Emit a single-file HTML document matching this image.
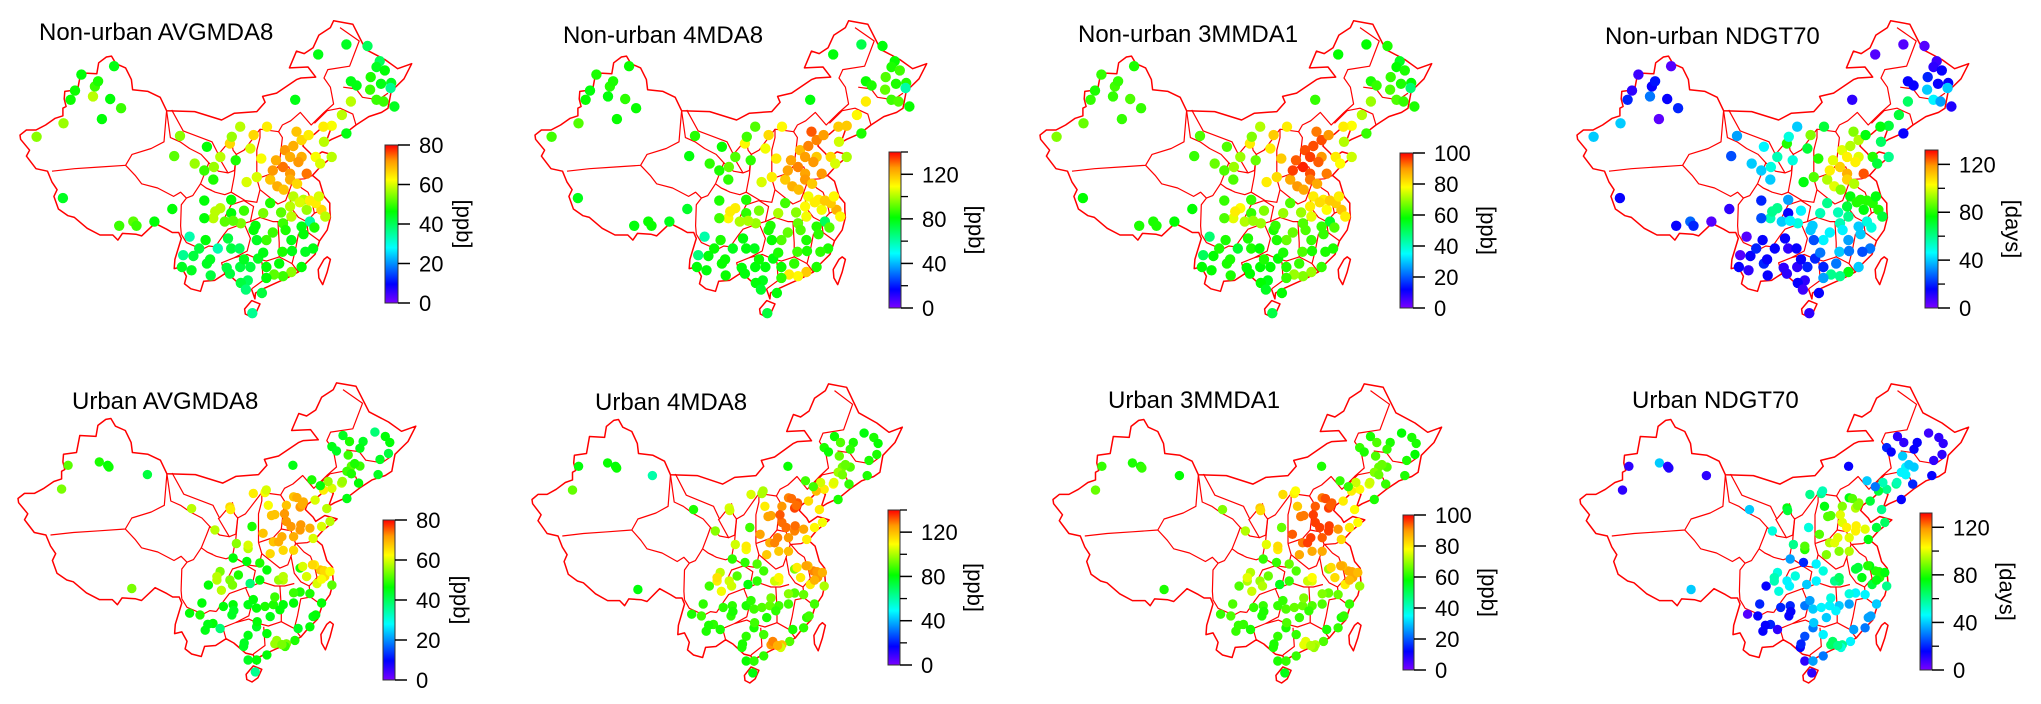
<!DOCTYPE html>
<html><head><meta charset="utf-8">
<style>
html,body{margin:0;padding:0;background:#fff;}
svg{display:block;font-family:"Liberation Sans",Arial,sans-serif;}
</style></head>
<body>
<svg id="fig" width="2041" height="704" viewBox="0 0 2041 704" xmlns="http://www.w3.org/2000/svg">
<defs>
<linearGradient id="rainbow" x1="0" y1="1" x2="0" y2="0">
<stop offset="0" stop-color="#7a00ff"/><stop offset="0.12" stop-color="#0000ff"/><stop offset="0.35" stop-color="#00ffff"/><stop offset="0.58" stop-color="#00ff00"/><stop offset="0.78" stop-color="#ffff00"/><stop offset="0.9" stop-color="#ff9900"/><stop offset="1" stop-color="#ff0000"/>
</linearGradient>
</defs>
</svg>
<script>
// ---- Non-urban stations ----
const nuLon=[88.2,83.1,82.1,81.4,85.2,85.7,84.9,87.6,89.3,86.3,80.3,76.1,80.2,89.0,91.2,91.7,94.5,97.3,97.6,98.5,
120.1,124.5,127.8,129.7,129.2,130.5,131.5,131.4,125.2,126.1,128.3,129.9,128.2,129.2,130.3,132.0,125.2,116.5,123.8,122.2,
120.9,124.5,121.0,116.7,117.5,118.6,114.9,115.7,114.6,117.5,118.3,115.7,112.6,113.7,114.7,115.7,119.7,120.4,122.2,110.0,
112.1,107.9,106.3,110.5,108.9,120.6,119.7,117.8,118.3,121.2,116.2,115.7,118.8,117.5,119.3,118.1,117.5,115.9,114.6,112.0,
110.7,109.1,108.0,111.3,108.8,115.9,114.5,112.0,110.5,110.0,114.6,115.9,111.5,112.6,108.0,106.5,104.8,103.7,106.5,103.7,
102.3,100.8,104.8,106.6,107.2,102.7,102.3,102.3,102.5,100.0,100.6,99.0,98.8,100.3,101.5,102.7,103.3,104.4,106.5,107.8,
107.9,109.5,106.3,109.8,
113.5,116.2,117.0,113.0,116.8,117.2,118.8,120.2,114.3,113.0,115.0,116.0,113.2,114.0,111.5,110.3,108.5,105.5,104.0,106.8,
103.2,106.0,108.5,105.8,112.0,117.8,119.5,111.2,109.5,103.8];
const nuLat=[48.0,47.0,45.1,44.0,45.6,46.2,44.4,44.1,43.0,41.7,41.2,39.6,32.3,29.0,29.5,29.0,29.5,31.0,37.3,39.7,
49.4,50.6,50.4,48.6,47.9,47.5,46.0,45.4,46.2,45.7,46.7,45.9,45.2,44.0,43.8,43.2,43.8,44.0,42.2,40.9,
40.8,40.0,39.0,40.2,39.2,39.8,38.0,37.2,36.0,37.2,35.2,35.2,34.5,33.7,33.3,34.5,37.2,36.4,37.2,39.8,
40.8,40.8,38.8,34.8,34.2,30.9,31.7,32.1,30.9,30.1,32.5,31.3,29.5,28.9,26.3,25.9,24.1,23.5,23.0,24.1,
25.1,22.5,22.2,21.0,21.4,27.3,25.9,27.3,27.3,28.5,29.3,30.1,30.5,31.7,29.3,30.5,31.1,29.9,32.1,34.5,
35.6,36.4,37.2,39.6,36.8,38.4,32.0,29.9,27.3,27.7,25.4,25.5,24.1,23.7,26.3,24.5,23.1,26.3,26.3,26.3,
24.1,24.1,23.3,18.6,
36.8,38.5,36.6,35.6,34.0,31.8,32.0,32.5,30.6,28.2,28.5,26.0,23.2,24.5,25.8,29.0,30.8,29.5,30.7,29.6,
25.0,27.5,25.0,24.0,22.8,28.0,28.8,37.0,38.2,36.0];
const nuAvg=[45,46,47,47,50,48,58,46,50,46,56,55,44,50,52,50,46,46,52,55,
45,44,40,40,44,46,44,36,45,45,48,45,50,50,50,44,58,45,58,62,
64,45,58,68,66,64,72,70,74,70,74,72,68,70,68,70,62,60,58,66,
64,58,66,60,60,66,64,58,56,58,58,58,35,45,45,44,46,55,50,46,
44,40,42,42,38,45,48,50,44,46,50,58,54,48,54,46,58,58,46,48,
50,56,58,56,48,46,46,46,46,34,42,36,44,44,42,44,42,34,42,40,
42,42,42,36,
70,70,72,72,66,60,64,60,52,50,48,45,52,46,45,46,50,52,58,52,
44,42,44,42,46,46,48,62,60,56];
const nu4md=[82,84,80,82,85,84,80,86,82,82,90,88,78,80,82,82,78,76,80,85,
80,72,80,82,84,88,85,60,82,84,90,84,92,88,90,82,112,80,110,118,
118,84,104,132,128,125,120,125,128,118,126,124,118,122,120,126,115,105,100,115,
110,90,110,112,105,122,118,112,108,110,108,110,70,85,84,86,84,118,110,82,
80,78,80,80,76,84,88,90,82,84,92,108,100,88,98,86,112,110,84,86,
84,86,90,88,86,82,84,88,84,60,80,66,80,80,82,82,82,78,80,78,
80,80,80,74,
124,128,126,124,118,112,118,110,96,92,90,84,112,86,84,84,94,100,112,100,
82,80,82,80,86,86,90,112,108,92];
const nu3mm=[60,62,60,62,63,62,62,64,62,62,66,68,58,60,60,60,58,58,62,64,
58,58,60,55,58,60,58,48,60,62,62,60,64,64,62,60,70,62,72,78,
80,62,72,92,95,90,95,96,98,90,92,95,88,90,88,92,80,78,74,84,
80,72,80,82,80,85,84,80,78,80,80,80,55,62,60,60,62,70,68,60,
58,56,58,58,55,62,64,66,60,60,64,76,70,64,70,62,78,76,62,64,
64,66,70,68,66,64,62,64,60,48,58,50,58,58,60,60,60,54,60,58,
58,58,58,52,
94,95,94,96,88,82,84,80,70,66,64,60,70,62,60,62,68,72,80,70,
60,60,60,58,62,62,64,84,80,70];
const nuNd=[5,8,10,20,15,18,30,15,20,4,40,40,15,15,28,20,5,10,25,35,
5,5,5,8,10,15,15,40,15,15,20,15,40,45,35,12,65,10,70,70,
75,15,65,90,95,75,100,105,110,100,125,115,95,100,90,110,80,70,60,90,
70,40,80,85,75,80,80,80,75,70,75,70,50,40,30,25,40,75,60,20,
20,10,15,15,8,35,40,45,25,40,55,60,55,60,50,15,60,55,35,40,
40,40,55,50,50,45,20,25,15,5,15,5,15,10,20,20,15,15,10,15,
10,20,10,10,
100,95,105,105,95,80,80,75,55,45,45,30,60,30,30,40,45,40,60,45,
15,15,15,10,35,40,50,80,70,50];

// ---- Urban stations ----
const uLon=[81.2,86.0,87.3,87.5,80.2,93.4,91.0,123.5,128.4,130.0,130.7,126.6,126.1,124.5,121.8,122.5,130.5,129.2,124.3,124.8,
126.1,124.1,124.8,128.9,125.9,123.3,121.8,121.2,120.5,124.1,121.0,120.0,118.7,115.8,115.9,117.4,116.9,114.8,113.0,114.8,
116.9,118.4,115.9,114.1,112.8,114.3,115.9,112.3,111.2,112.0,109.7,111.5,106.1,100.2,119.2,120.2,121.5,118.9,109.5,108.9,
107.1,120.0,120.7,119.1,117.9,121.8,116.9,119.5,114.3,113.6,111.8,110.7,108.7,106.6,104.1,104.8,106.1,107.4,104.6,102.8,
101.8,99.9,101.5,102.3,103.5,104.6,105.1,106.4,106.6,108.9,109.7,109.2,110.2,111.5,112.8,114.3,115.9,116.9,118.4,120.2,
118.9,118.4,116.6,116.1,114.8,113.0,111.8,112.3,110.2,108.9,108.2,108.9,110.2,111.8,114.6,113.8,110.7,110.0,
116.4,117.2,114.5,112.5,117.0,113.6,115.5,118.8,120.6,121.5,120.2,117.3,114.3,113.0,115.9,119.3,113.3,114.1,110.3,108.3,
106.7,102.7,104.1,106.5,108.9,103.8,106.2,111.7,123.4,125.3];
const uLat=[43.7,44.1,43.7,43.5,40.9,42.6,29.2,47.2,47.6,47.1,46.4,46.5,45.7,46.5,45.9,45.4,45.1,44.4,44.9,43.6,
43.6,43.0,42.7,42.6,41.6,41.6,41.0,41.8,40.8,39.8,38.6,41.3,42.0,43.7,40.0,39.4,38.8,39.0,37.9,37.1,
36.1,36.3,35.3,35.3,34.7,33.7,33.7,33.3,35.7,39.0,40.4,40.5,38.8,38.6,39.6,36.5,37.1,35.1,36.5,33.9,
34.5,31.4,30.6,32.0,30.6,29.6,31.6,29.8,30.2,30.2,31.4,32.2,32.4,32.8,30.2,29.0,30.2,30.8,31.2,29.6,
27.5,26.3,26.1,24.3,25.1,24.5,27.1,26.1,27.3,27.3,27.9,29.8,26.9,27.1,27.3,27.3,27.5,28.8,28.6,27.5,
25.9,24.7,24.5,23.1,22.7,22.7,23.9,25.9,24.7,23.7,22.4,20.8,20.8,21.4,22.4,26.7,30.2,19.4,
39.9,39.1,38.0,37.8,36.7,34.7,36.5,32.0,31.3,31.2,30.3,31.8,30.6,28.2,28.7,26.1,23.1,22.6,25.3,22.8,
26.6,25.0,30.6,29.6,34.3,36.1,38.5,40.8,41.8,43.9];
const uAvg=[52,48,46,47,54,42,54,44,38,46,46,44,45,48,45,44,42,44,50,52,
50,50,48,44,46,58,60,56,64,45,58,46,48,45,68,70,72,68,68,72,
72,70,70,70,68,66,66,66,68,62,64,62,66,58,60,60,58,60,48,58,
55,68,66,64,60,52,48,60,58,56,46,48,46,46,58,58,54,48,54,46,
46,46,48,45,46,38,46,44,46,45,46,38,46,48,48,46,46,48,48,46,
45,46,44,48,54,56,46,45,44,45,44,44,46,46,50,46,46,36,
70,70,72,68,72,70,72,66,66,62,62,60,58,50,50,46,56,54,46,44,
44,45,58,54,60,58,64,60,56,48];
const u4md=[80,82,80,82,92,60,80,82,80,84,82,84,86,90,84,82,84,84,92,94,
90,98,94,84,86,110,112,104,120,84,112,88,88,82,128,132,134,126,124,130,
128,124,126,128,122,118,120,118,124,112,105,100,105,84,115,110,108,112,88,108,
104,128,126,120,112,100,95,112,108,104,88,90,86,86,112,108,104,90,102,88,
86,84,88,84,86,84,86,86,86,84,86,80,88,90,92,88,88,90,92,88,
86,86,84,90,120,126,88,84,84,86,84,82,86,86,104,86,86,80,
130,130,132,124,130,128,130,124,126,122,122,112,110,94,96,88,128,122,88,84,
84,84,114,104,112,96,104,100,106,92];
const u3mm=[62,60,60,62,66,58,60,60,58,60,60,60,62,64,62,60,58,60,64,66,
64,68,66,60,62,76,78,74,80,60,78,62,62,60,92,94,96,94,92,96,
96,90,94,96,92,88,88,88,94,84,82,80,84,68,80,80,78,82,66,80,
76,88,88,86,82,70,70,80,76,74,64,66,62,62,72,74,70,66,72,64,
64,62,64,62,62,60,62,60,62,62,62,56,64,66,66,64,64,66,66,62,
60,62,60,64,72,76,62,62,60,62,60,60,62,62,70,62,62,56,
95,94,96,92,96,96,96,88,88,86,86,82,78,68,68,62,76,72,64,60,
60,62,76,72,82,72,82,78,74,66];
const uNd=[10,40,10,12,10,10,40,10,8,10,10,15,15,10,20,15,10,10,40,45,
40,45,45,15,20,60,60,55,70,15,60,30,40,15,75,90,95,90,85,100,
105,100,100,100,95,90,95,90,85,75,60,60,75,40,70,70,65,75,50,80,
60,80,80,75,75,60,70,70,65,60,50,45,20,35,55,50,45,50,50,15,
20,5,15,15,20,10,20,15,20,30,35,40,40,45,45,40,35,45,45,40,
35,30,35,45,60,65,45,40,30,25,15,10,35,30,50,45,45,10,
85,90,100,85,105,100,105,80,80,75,75,70,65,50,50,35,65,60,40,20,
15,15,55,45,85,50,70,55,55,40];

// ---- China outline (lon, lat) ----
const border=[[122.5,53.4],[125.5,53.0],[127.5,50.0],[130.5,48.8],[132.5,47.7],[134.7,48.3],[133.5,46.5],[131.5,45.0],[131.0,43.0],[130.0,42.5],[128.0,42.0],[126.0,41.0],[124.3,40.0],[122.2,39.3],[121.3,38.9],[122.0,40.4],[121.0,40.9],[119.5,39.9],[118.0,39.1],[117.7,38.5],[118.9,37.6],[119.3,37.1],[120.7,37.8],[122.6,37.4],[120.5,36.1],[119.2,35.0],[120.3,34.3],[121.0,32.5],[121.9,31.7],[121.9,30.9],[122.0,30.0],[121.5,28.5],[120.3,27.2],[119.6,25.6],[118.0,24.4],[117.0,23.5],[115.0,22.7],[113.5,22.2],[111.5,21.5],[110.3,21.0],[110.2,20.3],[109.7,21.4],[108.5,21.6],[106.7,22.8],[105.5,23.3],[103.9,22.5],[102.2,22.4],[101.7,21.2],[100.2,21.5],[99.2,22.1],[99.5,23.0],[98.7,24.1],[97.6,23.9],[97.7,25.0],[98.7,27.5],[98.3,28.2],[97.3,28.2],[96.4,28.6],[94.6,29.3],[92.5,27.8],[91.6,28.0],[89.5,28.1],[88.8,27.3],[88.0,27.9],[86.0,27.9],[84.0,28.7],[82.0,30.0],[81.0,30.2],[79.5,31.0],[78.8,32.5],[79.3,33.3],[78.5,34.2],[77.8,35.5],[76.0,35.8],[75.0,36.8],[74.5,37.3],[75.0,38.0],[73.6,39.3],[73.5,39.8],[74.5,40.4],[76.0,40.4],[77.5,41.0],[79.0,41.8],[80.2,42.1],[80.2,43.0],[80.7,43.2],[80.4,44.1],[80.5,45.0],[82.5,45.2],[83.0,47.2],[85.5,47.1],[85.8,48.4],[87.0,49.1],[87.8,49.2],[88.5,48.3],[90.0,47.8],[90.9,46.4],[91.1,45.2],[93.5,45.0],[95.4,44.3],[96.4,42.7],[100.8,42.6],[105.0,41.6],[107.0,42.4],[110.5,42.6],[111.8,43.7],[111.4,44.4],[113.6,44.8],[116.7,46.4],[117.4,46.6],[119.7,46.7],[118.5,47.9],[115.6,47.8],[116.7,49.8],[117.9,49.5],[119.3,50.2],[120.2,51.7],[122.0,52.6],[122.5,53.4]];
const hainan=[[108.6,19.1],[109.7,20.1],[111.0,19.7],[110.4,18.7],[109.5,18.2],[108.7,18.5],[108.6,19.1]];
const taiwan=[[121.5,25.3],[122.0,25.0],[121.5,23.5],[120.8,22.0],[120.2,22.8],[120.1,23.8],[121.0,25.0],[121.5,25.3]];
const provinces=[
[[78.5,35.5],[82,35.8],[86,36],[90,36.2],[91,37.5],[94,38.2],[96,39],[96.4,42.7]],
[[90,36.2],[91.5,35],[92.5,34],[95,33.5],[97.5,32.5],[98.6,33],[99.5,32.3],[98.7,31.5],[98.6,29],[98.7,28]],
[[96.4,42.7],[97,39.5],[98.5,39],[100,38.2],[101.8,37.5],[103,36.5],[102.5,35.5],[101.7,34],[102.6,33.5],[103.5,33.2]],
[[101.7,34],[100.5,32.6],[99.5,32.3]],
[[97.2,42.8],[99,40.3],[103.5,39],[104.5,37.5],[106.5,39.3],[106.8,38],[107.3,37.5],[108.5,38],[110,39.5],[111,40.5],[113.9,40.2],[114.5,41],[115.8,41.5],[117.3,42.5],[119,41],[121,42.5],[122.5,43.5],[122,45.5],[121,46.6],[121.6,47.6],[125,48],[126.5,51],[123.5,52.6]],
[[124,45.5],[126,45.3],[127,44.3],[129.5,44],[131,44.8]],
[[119.5,41.2],[121.5,42.7],[123.5,43],[125.5,42.3],[126,41]],
[[113.9,40.2],[114.5,39.5],[114,36.2],[115.5,36],[116.2,34.5],[118,34.6],[119.2,35]],
[[110.5,34.6],[110.5,38],[111,39.5],[111,40.5]],
[[114,36.2],[112.8,35.2],[110.5,34.6]],
[[107.3,37.5],[107,35],[106.5,33],[108.7,32],[110.5,31.8],[111,33.3],[110.5,34.6]],
[[111,33.3],[113.8,31.6],[115,32],[115.5,33],[116.2,34.5]],
[[116.3,34.5],[117.5,33.5],[118.5,33],[119,32],[119.3,31.2],[119.5,30.5],[120.7,30.9]],
[[115.5,33],[116,31],[117,30],[118.3,29.5],[119.5,30.5]],
[[118.3,29.5],[118.5,28.2],[120.3,27.2]],
[[118.5,28.2],[117,28],[116.5,26],[116,24.5],[117,23.5]],
[[109.5,29.5],[111,30],[113,29.5],[114.5,29.5],[116,29.8]],
[[113.8,29.5],[114,27],[114,25.3]],
[[110.5,25.1],[112,24.8],[114,25.3],[115.5,24.7],[116,24.5]],
[[111.3,24.7],[111.5,22.5],[109.7,21.5]],
[[105.5,23.3],[105,24.6],[107,25.2],[109,25.6],[110.5,25.1]],
[[104,26.5],[105.3,27.9],[106,28.6],[108.5,29.3],[109.5,27.5],[109,26],[107,25.2]],
[[105.5,30],[106.5,31.5],[108.5,32],[110,31.3],[109.5,29.5],[108.5,29.3]],
[[98.7,28],[99.5,27],[101,26.5],[102,26.2],[103,26.6],[104,26.5]],
[[102.6,33.5],[104,33],[105.5,32.7],[106.5,33]],
[[104.3,37.5],[106,35.3],[107,35.6],[107.3,37.5]],
[[103,36.5],[104.5,35.5],[106,35.3]]
];

// ---- Panel layout ----
const panels=[
 {name:'non-urban-avgmda8',title:'Non-urban AVGMDA8',lon:nuLon,lat:nuLat,val:nuAvg,max:80,major:[0,20,40,60,80],minor:[],unit:'[ppb]',tx:39,ty:40,X0:20,Y0:20,sx:6.4,sy:8.4,r:5.2,cb:[385,145,398,303]},
 {name:'non-urban-4mda8',title:'Non-urban 4MDA8',lon:nuLon,lat:nuLat,val:nu4md,max:140,major:[0,40,80,120],minor:[20,60,100,140],unit:'[ppb]',tx:563,ty:43,X0:535,Y0:20,sx:6.4,sy:8.4,r:5.2,cb:[889,152,901,308]},
 {name:'non-urban-3mmda1',title:'Non-urban 3MMDA1',lon:nuLon,lat:nuLat,val:nu3mm,max:100,major:[0,20,40,60,80,100],minor:[],unit:'[ppb]',tx:1078,ty:42,X0:1040,Y0:20,sx:6.4,sy:8.4,r:5.2,cb:[1400,153,1413,308]},
 {name:'non-urban-ndgt70',title:'Non-urban NDGT70',lon:nuLon,lat:nuLat,val:nuNd,max:132,major:[0,40,80,120],minor:[20,60,100],unit:'[days]',tx:1605,ty:44,X0:1577,Y0:20,sx:6.4,sy:8.4,r:5.2,cb:[1925,150,1938,308]},
 {name:'urban-avgmda8',title:'Urban AVGMDA8',lon:uLon,lat:uLat,val:uAvg,max:80,major:[0,20,40,60,80],minor:[],unit:'[ppb]',tx:72,ty:409,X0:18,Y0:382,sx:6.5,sy:8.5,r:4.7,cb:[383,520,395,680]},
 {name:'urban-4mda8',title:'Urban 4MDA8',lon:uLon,lat:uLat,val:u4md,max:140,major:[0,40,80,120],minor:[20,60,100,140],unit:'[ppb]',tx:595,ty:410,X0:532,Y0:383,sx:6.05,sy:8.5,r:4.7,cb:[888,510,900,665]},
 {name:'urban-3mmda1',title:'Urban 3MMDA1',lon:uLon,lat:uLat,val:u3mm,max:100,major:[0,20,40,60,80,100],minor:[],unit:'[ppb]',tx:1108,ty:408,X0:1053,Y0:383,sx:6.35,sy:8.5,r:4.7,cb:[1403,515,1414,670]},
 {name:'urban-ndgt70',title:'Urban NDGT70',lon:uLon,lat:uLat,val:uNd,max:132,major:[0,40,80,120],minor:[20,60,100],unit:'[days]',tx:1632,ty:408,X0:1580,Y0:383,sx:6.35,sy:8.5,r:4.7,cb:[1920,513,1932,670]}
];

const stops=[[0,[122,0,255]],[0.12,[0,0,255]],[0.35,[0,255,255]],[0.58,[0,255,0]],[0.78,[255,255,0]],[0.9,[255,153,0]],[1,[255,0,0]]];
function colorOf(f){
  f=Math.max(0,Math.min(1,f));
  for(let i=1;i<stops.length;i++){
    if(f<=stops[i][0]){
      const a=stops[i-1],b=stops[i],t=(f-a[0])/(b[0]-a[0]);
      const c=a[1].map((v,k)=>Math.round(v+(b[1][k]-v)*t));
      return 'rgb('+c.join(',')+')';
    }
  }
  return 'rgb(255,0,0)';
}
const NS='http://www.w3.org/2000/svg';
const svg=document.getElementById('fig');
function mk(tag,attrs,parent){
  const e=document.createElementNS(NS,tag);
  for(const k in attrs)e.setAttribute(k,attrs[k]);
  parent.appendChild(e);return e;
}
panels.forEach(p=>{
  const g=mk('g',{},svg);
  
  
  const px=lon=>p.X0+(lon-73.5)*p.sx;
  const py=lat=>p.Y0+(53.5-lat)*p.sy;
  const pts=arr=>arr.map(d=>px(d[0]).toFixed(1)+','+py(d[1]).toFixed(1)).join(' ');
  const mapG=mk('g',{fill:'none',stroke:'#ff0000','stroke-width':1.5,'stroke-linejoin':'round'},g);
  
  
  mk('polygon',{points:pts(border)},mapG);
  mk('polygon',{points:pts(hainan)},mapG);
  mk('polygon',{points:pts(taiwan)},mapG);
  provinces.forEach(pr=>{
    const l=mk('polyline',{points:pts(pr),'stroke-width':1.2},mapG);
    
    
  });
  const dotG=mk('g',{},g);
  
  
  p.val.forEach((v,i)=>{
    const c=mk('circle',{cx:px(p.lon[i]).toFixed(1),cy:py(p.lat[i]).toFixed(1),r:p.r,fill:colorOf(v/p.max)},dotG);
    
    
  });
  const t=mk('text',{x:p.tx,y:p.ty,'font-size':24,fill:'#000'},g);
  t.textContent=p.title;
  
  
  const [x1,y1,x2,y2]=p.cb;
  const cbG=mk('g',{},g);
  
  
  mk('rect',{x:x1,y:y1,width:x2-x1,height:y2-y1,fill:'url(#rainbow)',stroke:'#333','stroke-width':1},cbG);
  const vy=v=>y2-(v/p.max)*(y2-y1);
  p.major.forEach(v=>{
    const yy=vy(v);
    mk('line',{x1:x2,y1:yy,x2:x2+12,y2:yy,stroke:'#000','stroke-width':1.5},cbG);
    const lt=mk('text',{x:x2+21,y:yy+8,'font-size':22,fill:'#000'},cbG);
    lt.textContent=String(v);
    
    
  });
  p.minor.forEach(v=>{
    const yy=vy(v);
    mk('line',{x1:x2,y1:yy,x2:x2+7,y2:yy,stroke:'#000','stroke-width':1.3},cbG);
  });
  const wide=p.major[p.major.length-1]>=100;
  const ux=x2+(wide?75:66), uy=(y1+y2)/2;
  const u=mk('text',{x:ux,y:uy,'font-size':22,fill:'#000','text-anchor':'middle','dominant-baseline':'central',transform:'rotate(90 '+ux+' '+uy+')'},cbG);
  u.textContent=p.unit;
  
  
});
</script>
</body></html>
